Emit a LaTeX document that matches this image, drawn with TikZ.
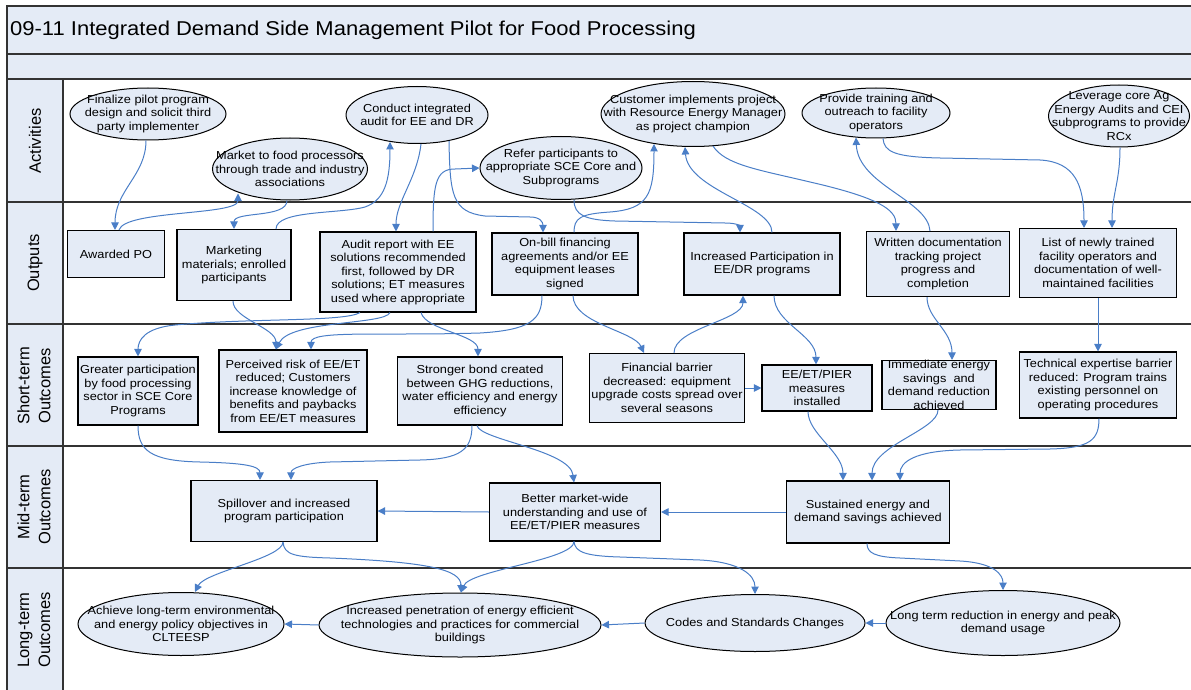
\documentclass[tikz,border=0pt]{standalone}
\usepackage{fontspec}
\setmainfont{Liberation Sans}[FakeStretch=1.1]
\newfontfamily\lanefont{Liberation Sans}
\usetikzlibrary{shapes.geometric,arrows.meta}
\definecolor{paleblue}{HTML}{E4EBF6}
\definecolor{linkblue}{HTML}{4A7EC7}
\definecolor{rulegray}{HTML}{333333}
\newcommand\boxfont{\fontsize{11.6}{13.5}\selectfont}
\tikzset{
  act/.style={ellipse, draw=black, line width=1pt, fill=paleblue, inner sep=0pt},
  acttext/.style={align=center, font=\boxfont, inner sep=0pt},
  res/.style={rectangle, draw=black, line width=1.1pt, fill=paleblue, align=center, font=\boxfont, inner sep=0pt},
  flow/.style={draw=linkblue, line width=1pt, -{Triangle[length=7.5pt,width=7.5pt]}},
  lanelabel/.style={rotate=90, align=center, font=\lanefont\fontsize{16.5}{21}\selectfont},
  lanerule/.style={draw=rulegray, line width=1.3pt},
}
\begin{document}
\begin{tikzpicture}[x=1pt,y=-1pt]
\useasboundingbox (0,0) rectangle (1191,690);
\clip (0,0) rectangle (1191,690);

% swimlane frame
\fill[paleblue] (7,6) rectangle (1200,79);
\fill[paleblue] (7,79) rectangle (63,700);
\draw[lanerule] (7,700) -- (7,6) -- (1200,6);
\draw[lanerule] (7,54) -- (1200,54);
\foreach \yy in {79,202,324,446,568} \draw[lanerule] (7,\yy) -- (1200,\yy);
\draw[lanerule] (63,79) -- (63,700);

\node[anchor=west, font=\fontsize{20}{24}\selectfont, inner sep=0pt] (title) at (10,30)
  {09-11 Integrated Demand Side Management Pilot for Food Processing};

\node[lanelabel] (lane1) at (35,141) {Activities};
\node[lanelabel] (lane2) at (35,263) {Outputs};
\node[lanelabel] (lane3) at (34,386) {Short-term\\Outcomes};
\node[lanelabel] (lane4) at (34,507) {Mid-term\\Outcomes};
\node[lanelabel] (lane5) at (34,630) {Long-term\\Outcomes};

% activities
\node[act, minimum width=156pt, minimum height=52pt, label={[acttext]center:Finalize pilot program\\design and solicit third\\party implementer}] (A1) at (148,114) {};
\node[act, minimum width=155pt, minimum height=62pt, label={[acttext]center:Market to food processors\\through trade and industry\\associations}] (A2) at (290,169) {};
\node[act, minimum width=142pt, minimum height=57pt, label={[acttext]center:Conduct integrated\\audit for EE and DR}] (A3) at (417,115) {};
\node[act, minimum width=162pt, minimum height=63pt, label={[acttext]center:Refer participants to\\appropriate SCE Core and\\Subprograms}] (A4) at (561,168) {};
\node[act, minimum width=184pt, minimum height=65pt, label={[acttext]center:Customer implements project\\with Resource Energy Manager\\as project champion}] (A5) at (693,114) {};
\node[act, minimum width=148pt, minimum height=50pt, label={[acttext]center:Provide training and\\outreach to facility\\operators}] (A6) at (876,113) {};
\node[act, minimum width=141pt, minimum height=62pt, label={[acttext]center:Leverage core Ag\\Energy Audits and CEI\\subprograms to provide\\RCx}] (A7) at (1119,116) {};

% outputs
\node[res, minimum width=97pt, minimum height=47pt] (O1) at (116,254) {Awarded PO};
\node[res, minimum width=114pt, minimum height=71pt] (O2) at (234,265) {Marketing\\materials; enrolled\\participants};
\node[res, minimum width=156pt, minimum height=80pt] (O3) at (398,272) {Audit report with EE\\solutions recommended\\first, followed by DR\\solutions; ET measures\\used where appropriate};
\node[res, minimum width=146pt, minimum height=62pt] (O4) at (565,264) {On-bill financing\\agreements and/or EE\\equipment leases\\signed};
\node[res, minimum width=156pt, minimum height=62pt] (O5) at (762,264) {Increased Participation in\\EE/DR programs};
\node[res, minimum width=143pt, minimum height=65pt] (O6) at (938,264) {Written documentation\\tracking project\\progress and\\completion};
\node[res, minimum width=157pt, minimum height=69pt] (O7) at (1098,263) {List of newly trained\\facility operators and\\documentation of well-\\maintained facilities};

% short-term outcomes
\node[res, minimum width=120pt, minimum height=68pt] (S1) at (138,391) {Greater participation\\by food processing\\sector in SCE Core\\Programs};
\node[res, minimum width=148pt, minimum height=82pt] (S2) at (293,391) {Perceived risk of EE/ET\\reduced; Customers\\increase knowledge of\\benefits and paybacks\\from EE/ET measures};
\node[res, minimum width=165pt, minimum height=68pt] (S3) at (480,391) {Stronger bond created\\between GHG reductions,\\water efficiency and energy\\efficiency};
\node[res, minimum width=155pt, minimum height=69pt] (S4) at (667,388) {Financial barrier\\decreased: equipment\\upgrade costs spread over\\several seasons};
\node[res, minimum width=110pt, minimum height=46pt] (S5) at (817,388) {EE/ET/PIER\\measures\\installed};
\node[res, minimum width=114pt, minimum height=49pt, text height=6pt, text depth=1pt] (S6) at (939,385) {};
\node[acttext] (S6t) at (S6.center) {Immediate energy\\savings\ \ and\\demand reduction\\achieved};
\node[res, minimum width=157pt, minimum height=66pt] (S7) at (1098,385) {Technical expertise barrier\\reduced: Program trains\\existing personnel on\\operating procedures};

% mid-term outcomes
\node[res, minimum width=186pt, minimum height=61pt] (M1) at (284,511) {Spillover and increased\\program participation};
\node[res, minimum width=171pt, minimum height=58pt] (M2) at (575,512) {Better market-wide\\understanding and use of\\EE/ET/PIER measures};
\node[res, minimum width=163pt, minimum height=62pt] (M3) at (868,512) {Sustained energy and\\demand savings achieved};

% long-term outcomes
\node[act, minimum width=206pt, minimum height=63pt, label={[acttext]center:Achieve long-term environmental\\and energy policy objectives in\\CLTEESP}] (L1) at (181,624) {};
\node[act, minimum width=282pt, minimum height=64pt, label={[acttext]center:Increased penetration of energy efficient\\technologies and practices for commercial\\buildings}] (L2) at (460,625) {};
\node[act, minimum width=220pt, minimum height=57pt, label={[acttext]center:Codes and Standards Changes}] (L3) at (755,623) {};
\node[act, minimum width=234pt, minimum height=65pt, label={[acttext]center:Long term reduction in energy and peak\\demand usage}] (L4) at (1003,623) {};

% activities <-> outputs
\draw[flow] ([xshift=-2pt]A1.south) .. controls +(0,35) and +(0,-40) .. ([xshift=-1pt]O1.north);
\draw[flow] ([xshift=3pt]O1.north) .. controls +(6,-20) and +(0,22) .. ([xshift=-52pt,yshift=7pt]A2.south);
\draw[flow] ([xshift=-3pt]A2.south) .. controls +(0,18) and +(0,-18) .. (O2.north);
\draw[flow] ([xshift=42pt]O2.north) .. controls (276,210) and (340,214) .. (365,207) .. controls (385,200) and (390,180) .. ([xshift=-27pt,yshift=2pt]A3.south);
\draw[flow] ([xshift=4pt]A3.south) .. controls +(-4,35) and +(0,-30) .. ([xshift=-2pt]O3.north);
\draw[flow] ([xshift=32pt,yshift=3pt]A3.south) .. controls (450,195) and (452,212) .. (485,216) -- (530,217) .. controls (540,217) and (543,222) .. ([xshift=-22pt]O4.north);
\draw[flow] ([xshift=35pt]O3.north) .. controls (433,185) and (435,169) .. (455,169) -- (A4.west);
\draw[flow] ([xshift=13pt]A4.south) .. controls (574,215) and (585,220) .. (615,221) -- (725,223) .. controls (737,223) and (740,226) .. ([xshift=-22pt]O5.north);
\draw[flow] ([xshift=9pt]O4.north) .. controls (574,218) and (580,214) .. (610,212) .. controls (648,209) and (654,195) .. ([xshift=-39pt,yshift=3pt]A5.south);
\draw[flow] ([xshift=10pt]O5.north) .. controls (772,205) and (688,190) .. ([xshift=-8pt]A5.south);
\draw[flow] ([xshift=20pt,yshift=1pt]A5.south) .. controls (725,165) and (760,170) .. (810,182) .. controls (880,198) and (896,210) .. ([xshift=-42pt]O6.north);
\draw[flow] ([xshift=-8pt]O6.north) .. controls (928,200) and (858,185) .. ([xshift=-20pt,yshift=1pt]A6.south);
\draw[flow] ([xshift=7pt]A6.south) .. controls (884,152) and (895,157) .. (940,158) -- (1040,160) .. controls (1075,162) and (1084,185) .. ([xshift=-14pt]O7.north);
\draw[flow] ([xshift=1pt]A7.south) .. controls +(0,35) and +(0,-35) .. ([xshift=14pt]O7.north);

% outputs <-> short-term outcomes
\draw[flow] ([xshift=-1pt]O2.south) .. controls +(0,18) and +(0,-22) .. ([xshift=-17pt]S2.north);
\draw[flow] ([xshift=-8pt]O3.south) .. controls (385,325) and (290,320) .. ([xshift=-17pt]S2.north);
\draw[flow] ([xshift=-38pt]O3.south) .. controls (345,322) and (250,318) .. (175,325) .. controls (145,328) and (138,340) .. (S1.north);
\draw[flow] ([xshift=23pt]O3.south) .. controls +(5,18) and +(0,-22) .. ([xshift=-2pt]S3.north);
\draw[flow] ([xshift=-23pt]O4.south) .. controls (542,320) and (530,330) .. (480,333) .. controls (380,336) and (311,330) .. ([xshift=18pt]S2.north);
\draw[flow] ([xshift=8pt]O4.south) .. controls +(0,28) and +(-10,-22) .. ([xshift=-23pt]S4.north);
\draw[flow] ([xshift=7pt]S4.north) .. controls +(0,-25) and +(0,25) .. ([xshift=-19pt]O5.south);
\draw[flow] ([xshift=12pt]O5.south) .. controls +(0,28) and +(0,-30) .. ([xshift=-1pt]S5.north);
\draw[flow] ([xshift=-11pt]O6.south) .. controls +(0,22) and +(0,-30) .. ([xshift=13pt]S6.north);
\draw[flow] (O7.south) -- (S7.north);
\draw[flow] (S4.east) -- (S5.west);

% short-term -> mid-term
\draw[flow] (S1.south) .. controls (138,450) and (150,461) .. (200,462) .. controls (245,463) and (260,466) .. ([xshift=-24pt]M1.north);
\draw[flow] ([xshift=-8pt]S3.south) .. controls (472,450) and (460,459) .. (420,460) -- (330,462) .. controls (305,463) and (291,468) .. ([xshift=7pt]M1.north);
\draw[flow] ([xshift=-3pt]S3.south) .. controls (480,440) and (570,450) .. ([xshift=-1pt]M2.north);
\draw[flow] (M2.west) -- (M1.east);
\draw[flow] (M3.west) -- (M2.east);
\draw[flow] ([xshift=-9pt]S5.south) .. controls +(0,22) and +(0,-28) .. ([xshift=-25pt]M3.north);
\draw[flow] ([xshift=-1pt]S6.south) .. controls +(0,20) and +(0,-35) .. ([xshift=4pt]M3.north);
\draw[flow] ([xshift=1pt]S7.south) .. controls (1099,440) and (1090,448) .. (1050,449) -- (960,450) .. controls (915,451) and (900,462) .. ([xshift=32pt]M3.north);

% mid-term -> long-term
\draw[flow] ([xshift=-1pt]M1.south) .. controls (283,558) and (205,572) .. ([xshift=14pt]L1.north);
\draw[flow] ([xshift=-1pt]M1.south) .. controls (284,555) and (295,557) .. (330,558) .. controls (430,562) and (461,570) .. ([xshift=1pt]L2.north);
\draw[flow] ([xshift=-1pt]M2.south) .. controls (574,560) and (470,570) .. ([xshift=1pt]L2.north);
\draw[flow] ([xshift=-1pt]M2.south) .. controls (575,552) and (585,556) .. (620,557) -- (700,560) .. controls (740,562) and (755,575) .. (L3.north);
\draw[flow] ([xshift=-1pt]M3.south) .. controls (867,553) and (875,557) .. (900,558) -- (960,561) .. controls (995,563) and (1003,575) .. (L4.north);
\draw[flow] (L4.west) -- (L3.east);
\draw[flow] (L3.west) -- (L2.east);
\draw[flow] (L2.west) -- (L1.east);
\end{tikzpicture}
\end{document}
